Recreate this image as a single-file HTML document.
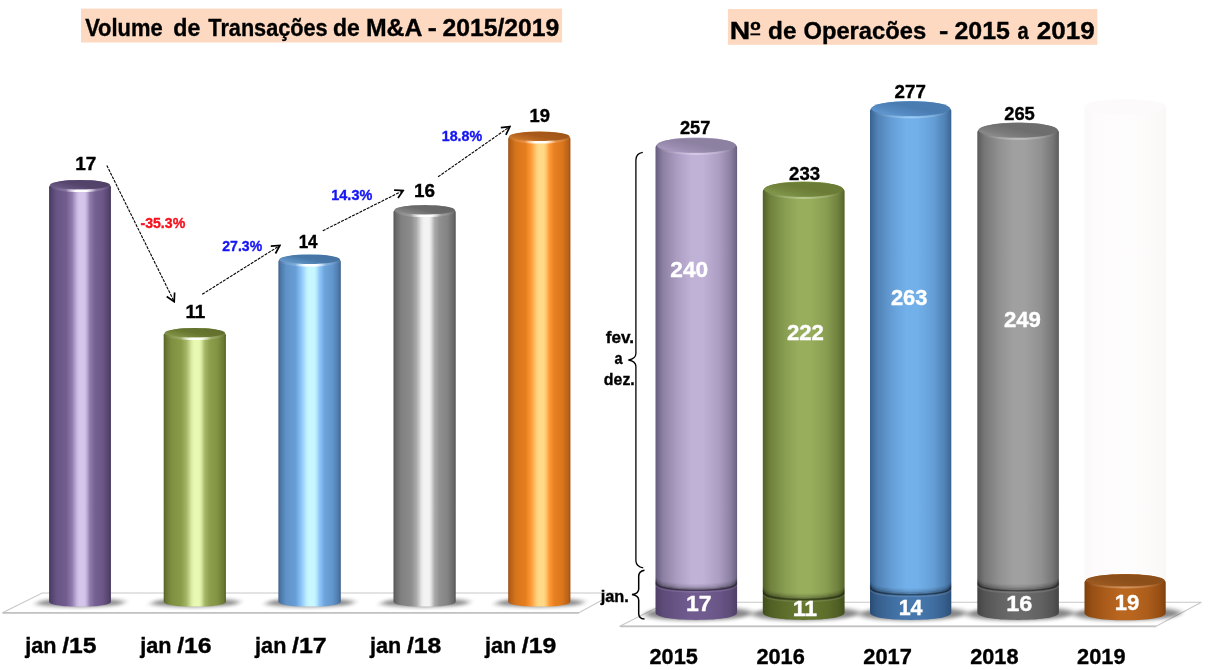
<!DOCTYPE html>
<html lang="pt"><head><meta charset="utf-8"><title>Volume de Transações de M&amp;A</title>
<style>
html,body{margin:0;padding:0;background:#fff;}
svg{display:block;}
text{font-family:"Liberation Sans",sans-serif;font-weight:bold;}
</style></head><body>
<svg width="1210" height="670" viewBox="0 0 1210 670">
<defs>
<linearGradient id="Lp" x1="0" y1="0" x2="1" y2="0"><stop offset="0" stop-color="#3d3054"/><stop offset="0.025" stop-color="#504069"/><stop offset="0.12" stop-color="#685484"/><stop offset="0.28" stop-color="#735d90"/><stop offset="0.37" stop-color="#907cac"/><stop offset="0.45" stop-color="#c7b6df"/><stop offset="0.49" stop-color="#d5c4ec"/><stop offset="0.57" stop-color="#d5c4ec"/><stop offset="0.605" stop-color="#c4b2dc"/><stop offset="0.66" stop-color="#907cac"/><stop offset="0.74" stop-color="#766193"/><stop offset="0.87" stop-color="#6b5687"/><stop offset="0.97" stop-color="#53426c"/><stop offset="1" stop-color="#3d3054"/></linearGradient>
<linearGradient id="LTp" x1="0" y1="0.85" x2="1" y2="0.15"><stop offset="0" stop-color="#705f8d"/><stop offset="0.3" stop-color="#5f4f79"/><stop offset="0.5" stop-color="#54446c"/><stop offset="1" stop-color="#4f4066"/></linearGradient>
<linearGradient id="Lg" x1="0" y1="0" x2="1" y2="0"><stop offset="0" stop-color="#4f5c22"/><stop offset="0.025" stop-color="#64722f"/><stop offset="0.12" stop-color="#7e8f40"/><stop offset="0.28" stop-color="#8a9c48"/><stop offset="0.37" stop-color="#a6b868"/><stop offset="0.45" stop-color="#dbeca5"/><stop offset="0.49" stop-color="#e8f9b4"/><stop offset="0.57" stop-color="#e8f9b4"/><stop offset="0.605" stop-color="#d8e9a1"/><stop offset="0.66" stop-color="#a6b868"/><stop offset="0.74" stop-color="#8d9f4c"/><stop offset="0.87" stop-color="#819242"/><stop offset="0.97" stop-color="#677631"/><stop offset="1" stop-color="#4f5c22"/></linearGradient>
<linearGradient id="LTg" x1="0" y1="0.85" x2="1" y2="0.15"><stop offset="0" stop-color="#8a9b4e"/><stop offset="0.3" stop-color="#74843b"/><stop offset="0.5" stop-color="#66752f"/><stop offset="1" stop-color="#606e2c"/></linearGradient>
<linearGradient id="Lb" x1="0" y1="0" x2="1" y2="0"><stop offset="0" stop-color="#3a5c88"/><stop offset="0.025" stop-color="#4a73a4"/><stop offset="0.12" stop-color="#5f92c7"/><stop offset="0.28" stop-color="#689fd7"/><stop offset="0.37" stop-color="#8ec6fb"/><stop offset="0.45" stop-color="#bceefe"/><stop offset="0.49" stop-color="#c8f8ff"/><stop offset="0.57" stop-color="#c8f8ff"/><stop offset="0.605" stop-color="#baecfe"/><stop offset="0.66" stop-color="#8ec6fb"/><stop offset="0.74" stop-color="#6da4db"/><stop offset="0.87" stop-color="#6195cb"/><stop offset="0.97" stop-color="#4c77a8"/><stop offset="1" stop-color="#3a5c88"/></linearGradient>
<linearGradient id="LTb" x1="0" y1="0.85" x2="1" y2="0.15"><stop offset="0" stop-color="#6ea2d4"/><stop offset="0.3" stop-color="#5789bb"/><stop offset="0.5" stop-color="#4878aa"/><stop offset="1" stop-color="#4471a0"/></linearGradient>
<linearGradient id="Lk" x1="0" y1="0" x2="1" y2="0"><stop offset="0" stop-color="#4e4e4e"/><stop offset="0.025" stop-color="#646464"/><stop offset="0.12" stop-color="#808080"/><stop offset="0.28" stop-color="#8c8c8c"/><stop offset="0.37" stop-color="#ababab"/><stop offset="0.45" stop-color="#e5e5e5"/><stop offset="0.49" stop-color="#f3f3f3"/><stop offset="0.57" stop-color="#f3f3f3"/><stop offset="0.605" stop-color="#e1e1e1"/><stop offset="0.66" stop-color="#ababab"/><stop offset="0.74" stop-color="#909090"/><stop offset="0.87" stop-color="#838383"/><stop offset="0.97" stop-color="#676767"/><stop offset="1" stop-color="#4e4e4e"/></linearGradient>
<linearGradient id="LTk" x1="0" y1="0.85" x2="1" y2="0.15"><stop offset="0" stop-color="#929292"/><stop offset="0.3" stop-color="#7a7a7a"/><stop offset="0.5" stop-color="#6a6a6a"/><stop offset="1" stop-color="#646464"/></linearGradient>
<linearGradient id="Lo" x1="0" y1="0" x2="1" y2="0"><stop offset="0" stop-color="#984c10"/><stop offset="0.025" stop-color="#b35e15"/><stop offset="0.12" stop-color="#d6741b"/><stop offset="0.28" stop-color="#e67e1e"/><stop offset="0.37" stop-color="#ff9a38"/><stop offset="0.45" stop-color="#ffcc76"/><stop offset="0.49" stop-color="#ffd986"/><stop offset="0.57" stop-color="#ffd986"/><stop offset="0.605" stop-color="#ffc972"/><stop offset="0.66" stop-color="#ff9a38"/><stop offset="0.74" stop-color="#e98121"/><stop offset="0.87" stop-color="#da761c"/><stop offset="0.97" stop-color="#b76016"/><stop offset="1" stop-color="#984c10"/></linearGradient>
<linearGradient id="LTo" x1="0" y1="0.85" x2="1" y2="0.15"><stop offset="0" stop-color="#d57e2a"/><stop offset="0.3" stop-color="#ba6821"/><stop offset="0.5" stop-color="#a85a1a"/><stop offset="1" stop-color="#9e5518"/></linearGradient>
<linearGradient id="Rp" x1="0" y1="0" x2="1" y2="0"><stop offset="0" stop-color="#665c7c"/><stop offset="0.025" stop-color="#716687"/><stop offset="0.09" stop-color="#8c80a2"/><stop offset="0.27" stop-color="#ac9ec3"/><stop offset="0.44" stop-color="#c0b1d7"/><stop offset="0.58" stop-color="#c0b1d7"/><stop offset="0.78" stop-color="#ac9ec3"/><stop offset="0.92" stop-color="#8c80a2"/><stop offset="0.98" stop-color="#74698a"/><stop offset="1" stop-color="#665c7c"/></linearGradient>
<linearGradient id="RJp" x1="0" y1="0" x2="1" y2="0"><stop offset="0" stop-color="#4f3e66"/><stop offset="0.025" stop-color="#53426b"/><stop offset="0.09" stop-color="#5d4b78"/><stop offset="0.27" stop-color="#6a5587"/><stop offset="0.44" stop-color="#715c90"/><stop offset="0.58" stop-color="#715c90"/><stop offset="0.78" stop-color="#6a5587"/><stop offset="0.92" stop-color="#5d4b78"/><stop offset="0.98" stop-color="#54426c"/><stop offset="1" stop-color="#4f3e66"/></linearGradient>
<linearGradient id="RTp" x1="0" y1="0.9" x2="1" y2="0.1"><stop offset="0" stop-color="#b0a1c7"/><stop offset="0.3" stop-color="#998caf"/><stop offset="0.55" stop-color="#8d81a2"/><stop offset="1" stop-color="#8d81a2"/></linearGradient>
<linearGradient id="Rg" x1="0" y1="0" x2="1" y2="0"><stop offset="0" stop-color="#526026"/><stop offset="0.025" stop-color="#5a692d"/><stop offset="0.09" stop-color="#6f813d"/><stop offset="0.27" stop-color="#899d51"/><stop offset="0.44" stop-color="#98ae5d"/><stop offset="0.58" stop-color="#98ae5d"/><stop offset="0.78" stop-color="#899d51"/><stop offset="0.92" stop-color="#6f813d"/><stop offset="0.98" stop-color="#5c6c2e"/><stop offset="1" stop-color="#526026"/></linearGradient>
<linearGradient id="RJg" x1="0" y1="0" x2="1" y2="0"><stop offset="0" stop-color="#414d1c"/><stop offset="0.025" stop-color="#45521e"/><stop offset="0.09" stop-color="#505f24"/><stop offset="0.27" stop-color="#5d6e2b"/><stop offset="0.44" stop-color="#65772f"/><stop offset="0.58" stop-color="#65772f"/><stop offset="0.78" stop-color="#5d6e2b"/><stop offset="0.92" stop-color="#505f24"/><stop offset="0.98" stop-color="#46531f"/><stop offset="1" stop-color="#414d1c"/></linearGradient>
<linearGradient id="RTg" x1="0" y1="0.9" x2="1" y2="0.1"><stop offset="0" stop-color="#8aa052"/><stop offset="0.3" stop-color="#768940"/><stop offset="0.55" stop-color="#6b7c36"/><stop offset="1" stop-color="#6b7c36"/></linearGradient>
<linearGradient id="Rb" x1="0" y1="0" x2="1" y2="0"><stop offset="0" stop-color="#38608f"/><stop offset="0.025" stop-color="#3f6a9a"/><stop offset="0.09" stop-color="#5082b5"/><stop offset="0.27" stop-color="#659ed6"/><stop offset="0.44" stop-color="#72b0ea"/><stop offset="0.58" stop-color="#72b0ea"/><stop offset="0.78" stop-color="#659ed6"/><stop offset="0.92" stop-color="#5082b5"/><stop offset="0.98" stop-color="#416c9d"/><stop offset="1" stop-color="#38608f"/></linearGradient>
<linearGradient id="RJb" x1="0" y1="0" x2="1" y2="0"><stop offset="0" stop-color="#2a4c74"/><stop offset="0.025" stop-color="#2d517b"/><stop offset="0.09" stop-color="#365e8c"/><stop offset="0.27" stop-color="#406ea1"/><stop offset="0.44" stop-color="#4678ae"/><stop offset="0.58" stop-color="#4678ae"/><stop offset="0.78" stop-color="#406ea1"/><stop offset="0.92" stop-color="#365e8c"/><stop offset="0.98" stop-color="#2e537d"/><stop offset="1" stop-color="#2a4c74"/></linearGradient>
<linearGradient id="RTb" x1="0" y1="0.9" x2="1" y2="0.1"><stop offset="0" stop-color="#66a0da"/><stop offset="0.3" stop-color="#5489c0"/><stop offset="0.55" stop-color="#4a7cb2"/><stop offset="1" stop-color="#4a7cb2"/></linearGradient>
<linearGradient id="Rk" x1="0" y1="0" x2="1" y2="0"><stop offset="0" stop-color="#5a5a5a"/><stop offset="0.025" stop-color="#626262"/><stop offset="0.09" stop-color="#777777"/><stop offset="0.27" stop-color="#919191"/><stop offset="0.44" stop-color="#a0a0a0"/><stop offset="0.58" stop-color="#a0a0a0"/><stop offset="0.78" stop-color="#919191"/><stop offset="0.92" stop-color="#777777"/><stop offset="0.98" stop-color="#646464"/><stop offset="1" stop-color="#5a5a5a"/></linearGradient>
<linearGradient id="RJk" x1="0" y1="0" x2="1" y2="0"><stop offset="0" stop-color="#434343"/><stop offset="0.025" stop-color="#484848"/><stop offset="0.09" stop-color="#545454"/><stop offset="0.27" stop-color="#626262"/><stop offset="0.44" stop-color="#6b6b6b"/><stop offset="0.58" stop-color="#6b6b6b"/><stop offset="0.78" stop-color="#626262"/><stop offset="0.92" stop-color="#545454"/><stop offset="0.98" stop-color="#494949"/><stop offset="1" stop-color="#434343"/></linearGradient>
<linearGradient id="RTk" x1="0" y1="0.9" x2="1" y2="0.1"><stop offset="0" stop-color="#949494"/><stop offset="0.3" stop-color="#7b7b7b"/><stop offset="0.55" stop-color="#6e6e6e"/><stop offset="1" stop-color="#6e6e6e"/></linearGradient>
<linearGradient id="Ro" x1="0" y1="0" x2="1" y2="0"><stop offset="0" stop-color="#7e3f0c"/><stop offset="0.025" stop-color="#85440e"/><stop offset="0.09" stop-color="#974f14"/><stop offset="0.27" stop-color="#ac5d1b"/><stop offset="0.44" stop-color="#b9661f"/><stop offset="0.58" stop-color="#b9661f"/><stop offset="0.78" stop-color="#ac5d1b"/><stop offset="0.92" stop-color="#974f14"/><stop offset="0.98" stop-color="#87450f"/><stop offset="1" stop-color="#7e3f0c"/></linearGradient>
<linearGradient id="RJo" x1="0" y1="0" x2="1" y2="0"><stop offset="0" stop-color="#7e3f0c"/><stop offset="0.025" stop-color="#85440e"/><stop offset="0.09" stop-color="#974f14"/><stop offset="0.27" stop-color="#ac5d1b"/><stop offset="0.44" stop-color="#b9661f"/><stop offset="0.58" stop-color="#b9661f"/><stop offset="0.78" stop-color="#ac5d1b"/><stop offset="0.92" stop-color="#974f14"/><stop offset="0.98" stop-color="#87450f"/><stop offset="1" stop-color="#7e3f0c"/></linearGradient>
<linearGradient id="RTo" x1="0" y1="0.9" x2="1" y2="0.1"><stop offset="0" stop-color="#a05e24"/><stop offset="0.3" stop-color="#93541d"/><stop offset="0.55" stop-color="#8c4f19"/><stop offset="1" stop-color="#8c4f19"/></linearGradient>
<linearGradient id="ghost" x1="0" y1="0" x2="1" y2="0"><stop offset="0" stop-color="#fbf8f8"/><stop offset="0.15" stop-color="#fdfbfb"/><stop offset="0.5" stop-color="#fefdfd"/><stop offset="0.85" stop-color="#fcf9f9"/><stop offset="1" stop-color="#faf7f7"/></linearGradient>
<linearGradient id="rimhi" x1="0" y1="0" x2="1" y2="0"><stop offset="0" stop-color="#fff" stop-opacity="0.04"/><stop offset="0.26" stop-color="#fff" stop-opacity="0.16"/><stop offset="0.37" stop-color="#fff" stop-opacity="0.7"/><stop offset="0.44" stop-color="#fff" stop-opacity="1"/><stop offset="0.6" stop-color="#fff" stop-opacity="1"/><stop offset="0.67" stop-color="#fff" stop-opacity="0.7"/><stop offset="0.78" stop-color="#fff" stop-opacity="0.16"/><stop offset="1" stop-color="#fff" stop-opacity="0.04"/></linearGradient>
<linearGradient id="rimlo" x1="0" y1="0" x2="1" y2="0"><stop offset="0" stop-color="#fff" stop-opacity="0"/><stop offset="0.25" stop-color="#fff" stop-opacity="0.18"/><stop offset="0.5" stop-color="#fff" stop-opacity="0.32"/><stop offset="0.75" stop-color="#fff" stop-opacity="0.18"/><stop offset="1" stop-color="#fff" stop-opacity="0"/></linearGradient>
<filter id="blurS" x="-30%" y="-120%" width="160%" height="340%"><feGaussianBlur stdDeviation="3.4 2.1"/></filter>
<filter id="blur1" x="-10%" y="-300%" width="120%" height="700%"><feGaussianBlur stdDeviation="0.6"/></filter>
<marker id="ah" viewBox="0 0 12 12" refX="10.6" refY="6" markerWidth="12" markerHeight="12" orient="auto" markerUnits="userSpaceOnUse"><path d="M2.6 1.6 L10.6 6 L2.6 10.4" fill="none" stroke="#000" stroke-width="1.7" stroke-linejoin="miter"/></marker>
</defs>
<rect width="1210" height="670" fill="#fff"/>
<polygon points="42.2,593.0 615,593.0 579,612.8 2.5,612.8" fill="#fff" stroke="#c8c8c8" stroke-width="1.1"/>
<line x1="2.5" y1="612.8" x2="579" y2="612.8" stroke="#c2c2c2" stroke-width="1.7"/>
<ellipse cx="80.5" cy="602.8" rx="44.5" ry="4.2" fill="#000" opacity="0.47" filter="url(#blurS)" transform="translate(80.5 602.8) skewX(-28) translate(-80.5 -602.8)"/>
<ellipse cx="195.3" cy="602.8" rx="44.5" ry="4.2" fill="#000" opacity="0.47" filter="url(#blurS)" transform="translate(195.3 602.8) skewX(-28) translate(-195.3 -602.8)"/>
<ellipse cx="310.1" cy="602.8" rx="44.5" ry="4.2" fill="#000" opacity="0.47" filter="url(#blurS)" transform="translate(310.1 602.8) skewX(-28) translate(-310.1 -602.8)"/>
<ellipse cx="425.1" cy="602.8" rx="44.5" ry="4.2" fill="#000" opacity="0.47" filter="url(#blurS)" transform="translate(425.1 602.8) skewX(-28) translate(-425.1 -602.8)"/>
<ellipse cx="539.8" cy="602.8" rx="44.5" ry="4.2" fill="#000" opacity="0.47" filter="url(#blurS)" transform="translate(539.8 602.8) skewX(-28) translate(-539.8 -602.8)"/>
<path d="M49.1 187.29999999999998 L49.1 601.4 C49.10 604.62 60.84 606.60 80.00 606.60 C99.16 606.60 110.90 604.62 110.90 601.40 L110.9 187.29999999999998 C110.90 182.86 98.54 179.90 80.00 179.90 C61.46 179.90 49.10 182.86 49.10 187.30 Z" fill="url(#Lp)"/>
<ellipse cx="80.0" cy="184.9" rx="30.000000000000004" ry="4.9" fill="url(#LTp)"/>
<path d="M50.300000000000004 185.5 C50.30 188.41 63.37 190.70 80.00 190.70 C96.63 190.70 109.70 188.41 109.70 185.50" fill="none" stroke="url(#rimhi)" stroke-width="2.6" filter="url(#blur1)"/>
<path d="M163.7 335.29999999999995 L163.7 601.4 C163.70 604.62 175.52 606.60 194.80 606.60 C214.08 606.60 225.90 604.62 225.90 601.40 L225.9 335.29999999999995 C225.90 330.86 213.46 327.90 194.80 327.90 C176.14 327.90 163.70 330.86 163.70 335.30 Z" fill="url(#Lg)"/>
<ellipse cx="194.8" cy="332.9" rx="30.20000000000001" ry="4.9" fill="url(#LTg)"/>
<path d="M164.89999999999998 333.49999999999994 C164.90 336.41 178.06 338.70 194.80 338.70 C211.54 338.70 224.70 336.41 224.70 333.50" fill="none" stroke="url(#rimhi)" stroke-width="2.6" filter="url(#blur1)"/>
<path d="M278.4 261.8 L278.4 601.4 C278.40 604.62 290.26 606.60 309.60 606.60 C328.94 606.60 340.80 604.62 340.80 601.40 L340.8 261.8 C340.80 257.36 328.32 254.40 309.60 254.40 C290.88 254.40 278.40 257.36 278.40 261.80 Z" fill="url(#Lb)"/>
<ellipse cx="309.6" cy="259.40000000000003" rx="30.30000000000002" ry="4.9" fill="url(#LTb)"/>
<path d="M279.59999999999997 260.0 C279.60 262.91 292.80 265.20 309.60 265.20 C326.40 265.20 339.60 262.91 339.60 260.00" fill="none" stroke="url(#rimhi)" stroke-width="2.6" filter="url(#blur1)"/>
<path d="M393.5 212.39999999999998 L393.5 601.4 C393.50 604.62 405.32 606.60 424.60 606.60 C443.88 606.60 455.70 604.62 455.70 601.40 L455.7 212.39999999999998 C455.70 207.96 443.26 205.00 424.60 205.00 C405.94 205.00 393.50 207.96 393.50 212.40 Z" fill="url(#Lk)"/>
<ellipse cx="424.6" cy="210.0" rx="30.199999999999996" ry="4.9" fill="url(#LTk)"/>
<path d="M394.7 210.6 C394.70 213.51 407.86 215.80 424.60 215.80 C441.34 215.80 454.50 213.51 454.50 210.60" fill="none" stroke="url(#rimhi)" stroke-width="2.6" filter="url(#blur1)"/>
<path d="M508.2 138.89999999999998 L508.2 601.4 C508.20 604.62 520.02 606.60 539.30 606.60 C558.58 606.60 570.40 604.62 570.40 601.40 L570.4 138.89999999999998 C570.40 134.46 557.96 131.50 539.30 131.50 C520.64 131.50 508.20 134.46 508.20 138.90 Z" fill="url(#Lo)"/>
<ellipse cx="539.3" cy="136.5" rx="30.199999999999996" ry="4.9" fill="url(#LTo)"/>
<path d="M509.4 137.1 C509.40 140.01 522.56 142.30 539.30 142.30 C556.04 142.30 569.20 140.01 569.20 137.10" fill="none" stroke="url(#rimhi)" stroke-width="2.6" filter="url(#blur1)"/>
<polygon points="667.4,602.3 1201.4,602.3 1156.2,626.3 619.8,626.3" fill="#fff" stroke="#c8c8c8" stroke-width="1.1"/>
<line x1="619.8" y1="626.3" x2="1156.2" y2="626.3" stroke="#c2c2c2" stroke-width="1.7"/>
<ellipse cx="698.5" cy="613.6" rx="53.5" ry="6.8" fill="#000" opacity="0.47" filter="url(#blurS)" transform="translate(698.5 613.6) skewX(-28) translate(-698.5 -613.6)"/>
<ellipse cx="805.9" cy="613.6" rx="53.5" ry="6.8" fill="#000" opacity="0.47" filter="url(#blurS)" transform="translate(805.9 613.6) skewX(-28) translate(-805.9 -613.6)"/>
<ellipse cx="912.9" cy="613.6" rx="53.5" ry="6.8" fill="#000" opacity="0.47" filter="url(#blurS)" transform="translate(912.9 613.6) skewX(-28) translate(-912.9 -613.6)"/>
<ellipse cx="1020.3" cy="613.6" rx="53.5" ry="6.8" fill="#000" opacity="0.47" filter="url(#blurS)" transform="translate(1020.3 613.6) skewX(-28) translate(-1020.3 -613.6)"/>
<ellipse cx="1127.3" cy="613.6" rx="53.5" ry="6.8" fill="#000" opacity="0.47" filter="url(#blurS)" transform="translate(1127.3 613.6) skewX(-28) translate(-1127.3 -613.6)"/>
<path d="M1084.6 106.7 A40.7 7.6 0 0 1 1166 106.7 L1166 600 L1084.6 600 Z" fill="url(#ghost)"/>
<ellipse cx="1125.1" cy="107" rx="39.8" ry="7.4" fill="#fcfafa"/>
<path d="M655.5 584.6 L655.5 612.6 C655.50 617.19 671.00 620.00 696.30 620.00 C721.60 620.00 737.10 617.19 737.10 612.60 L737.1 584.6 C737.10 578.84 720.78 575.00 696.30 575.00 C671.82 575.00 655.50 578.84 655.50 584.60 Z" fill="url(#RJp)"/>
<path d="M656.0 584.6 C656.00 589.13 671.31 591.90 696.30 591.90 C721.29 591.90 736.60 589.13 736.60 584.60" fill="none" stroke="#fff" stroke-opacity="0.10" stroke-width="1.6" filter="url(#blur1)"/>
<path d="M655.5 147.7 L655.5 582.4 C655.50 586.93 671.00 589.70 696.30 589.70 C721.60 589.70 737.10 586.93 737.10 582.40 L737.1 147.7 C737.10 141.64 720.78 137.60 696.30 137.60 C671.82 137.60 655.50 141.64 655.50 147.70 Z" fill="url(#Rp)"/>
<path d="M655.9 583.0 C655.90 587.53 671.25 590.30 696.30 590.30 C721.35 590.30 736.70 587.53 736.70 583.00" fill="none" stroke="#000" stroke-opacity="0.3" stroke-width="1.4"/>
<path d="M655.9 582.1999999999999 C655.90 586.73 671.25 589.50 696.30 589.50 C721.35 589.50 736.70 586.73 736.70 582.20" fill="none" stroke="#000" stroke-opacity="0.34" stroke-width="1.4"/>
<path d="M655.9 581.0 C655.90 585.53 671.25 588.30 696.30 588.30 C721.35 588.30 736.70 585.53 736.70 581.00" fill="none" stroke="#000" stroke-opacity="0.22" stroke-width="1.4"/>
<path d="M655.9 579.8 C655.90 584.33 671.25 587.10 696.30 587.10 C721.35 587.10 736.70 584.33 736.70 579.80" fill="none" stroke="#000" stroke-opacity="0.14" stroke-width="1.4"/>
<path d="M655.9 578.6 C655.90 583.13 671.25 585.90 696.30 585.90 C721.35 585.90 736.70 583.13 736.70 578.60" fill="none" stroke="#000" stroke-opacity="0.08" stroke-width="1.4"/>
<path d="M655.9 577.4 C655.90 581.93 671.25 584.70 696.30 584.70 C721.35 584.70 736.70 581.93 736.70 577.40" fill="none" stroke="#000" stroke-opacity="0.04" stroke-width="1.4"/>
<ellipse cx="696.3" cy="145.3" rx="39.70000000000001" ry="7.4" fill="url(#RTp)"/>
<path d="M657.0 146.1 C657.00 150.52 674.29 154.00 696.30 154.00 C718.31 154.00 735.60 150.52 735.60 146.10" fill="none" stroke="url(#rimlo)" stroke-width="1.8" filter="url(#blur1)"/>
<path d="M762.8 594.0 L762.8 612.6 C762.80 617.19 778.34 620.00 803.70 620.00 C829.06 620.00 844.60 617.19 844.60 612.60 L844.6 594.0 C844.60 588.24 828.24 584.40 803.70 584.40 C779.16 584.40 762.80 588.24 762.80 594.00 Z" fill="url(#RJg)"/>
<path d="M763.3 594.0 C763.30 598.53 778.65 601.30 803.70 601.30 C828.75 601.30 844.10 598.53 844.10 594.00" fill="none" stroke="#fff" stroke-opacity="0.10" stroke-width="1.6" filter="url(#blur1)"/>
<path d="M762.8 191.7 L762.8 591.8 C762.80 596.33 778.34 599.10 803.70 599.10 C829.06 599.10 844.60 596.33 844.60 591.80 L844.6 191.7 C844.60 185.64 828.24 181.60 803.70 181.60 C779.16 181.60 762.80 185.64 762.80 191.70 Z" fill="url(#Rg)"/>
<path d="M763.1999999999999 592.4 C763.20 596.93 778.59 599.70 803.70 599.70 C828.81 599.70 844.20 596.93 844.20 592.40" fill="none" stroke="#000" stroke-opacity="0.3" stroke-width="1.4"/>
<path d="M763.1999999999999 591.5999999999999 C763.20 596.13 778.59 598.90 803.70 598.90 C828.81 598.90 844.20 596.13 844.20 591.60" fill="none" stroke="#000" stroke-opacity="0.34" stroke-width="1.4"/>
<path d="M763.1999999999999 590.4 C763.20 594.93 778.59 597.70 803.70 597.70 C828.81 597.70 844.20 594.93 844.20 590.40" fill="none" stroke="#000" stroke-opacity="0.22" stroke-width="1.4"/>
<path d="M763.1999999999999 589.1999999999999 C763.20 593.73 778.59 596.50 803.70 596.50 C828.81 596.50 844.20 593.73 844.20 589.20" fill="none" stroke="#000" stroke-opacity="0.14" stroke-width="1.4"/>
<path d="M763.1999999999999 588.0 C763.20 592.53 778.59 595.30 803.70 595.30 C828.81 595.30 844.20 592.53 844.20 588.00" fill="none" stroke="#000" stroke-opacity="0.08" stroke-width="1.4"/>
<path d="M763.1999999999999 586.8 C763.20 591.33 778.59 594.10 803.70 594.10 C828.81 594.10 844.20 591.33 844.20 586.80" fill="none" stroke="#000" stroke-opacity="0.04" stroke-width="1.4"/>
<ellipse cx="803.7" cy="189.3" rx="39.80000000000003" ry="7.4" fill="url(#RTg)"/>
<path d="M764.3 190.1 C764.30 194.52 781.64 198.00 803.70 198.00 C825.76 198.00 843.10 194.52 843.10 190.10" fill="none" stroke="url(#rimlo)" stroke-width="1.8" filter="url(#blur1)"/>
<path d="M870.0 589.2 L870.0 612.6 C870.00 617.19 885.45 620.00 910.65 620.00 C935.85 620.00 951.30 617.19 951.30 612.60 L951.3 589.2 C951.30 583.44 935.04 579.60 910.65 579.60 C886.26 579.60 870.00 583.44 870.00 589.20 Z" fill="url(#RJb)"/>
<path d="M870.5 589.2 C870.50 593.73 885.76 596.50 910.65 596.50 C935.54 596.50 950.80 593.73 950.80 589.20" fill="none" stroke="#fff" stroke-opacity="0.10" stroke-width="1.6" filter="url(#blur1)"/>
<path d="M870.0 111.00000000000001 L870.0 587.0 C870.00 591.53 885.45 594.30 910.65 594.30 C935.85 594.30 951.30 591.53 951.30 587.00 L951.3 111.00000000000001 C951.30 104.94 935.04 100.90 910.65 100.90 C886.26 100.90 870.00 104.94 870.00 111.00 Z" fill="url(#Rb)"/>
<path d="M870.4 587.6 C870.40 592.13 885.69 594.90 910.65 594.90 C935.61 594.90 950.90 592.13 950.90 587.60" fill="none" stroke="#000" stroke-opacity="0.3" stroke-width="1.4"/>
<path d="M870.4 586.8 C870.40 591.33 885.69 594.10 910.65 594.10 C935.61 594.10 950.90 591.33 950.90 586.80" fill="none" stroke="#000" stroke-opacity="0.34" stroke-width="1.4"/>
<path d="M870.4 585.6 C870.40 590.13 885.69 592.90 910.65 592.90 C935.61 592.90 950.90 590.13 950.90 585.60" fill="none" stroke="#000" stroke-opacity="0.22" stroke-width="1.4"/>
<path d="M870.4 584.4 C870.40 588.93 885.69 591.70 910.65 591.70 C935.61 591.70 950.90 588.93 950.90 584.40" fill="none" stroke="#000" stroke-opacity="0.14" stroke-width="1.4"/>
<path d="M870.4 583.2 C870.40 587.73 885.69 590.50 910.65 590.50 C935.61 590.50 950.90 587.73 950.90 583.20" fill="none" stroke="#000" stroke-opacity="0.08" stroke-width="1.4"/>
<path d="M870.4 582.0 C870.40 586.53 885.69 589.30 910.65 589.30 C935.61 589.30 950.90 586.53 950.90 582.00" fill="none" stroke="#000" stroke-opacity="0.04" stroke-width="1.4"/>
<ellipse cx="910.65" cy="108.60000000000001" rx="39.549999999999976" ry="7.4" fill="url(#RTb)"/>
<path d="M871.5 109.4 C871.50 113.82 888.73 117.30 910.65 117.30 C932.57 117.30 949.80 113.82 949.80 109.40" fill="none" stroke="url(#rimlo)" stroke-width="1.8" filter="url(#blur1)"/>
<path d="M977.3 585.2 L977.3 612.6 C977.30 617.19 992.80 620.00 1018.10 620.00 C1043.40 620.00 1058.90 617.19 1058.90 612.60 L1058.9 585.2 C1058.90 579.44 1042.58 575.60 1018.10 575.60 C993.62 575.60 977.30 579.44 977.30 585.20 Z" fill="url(#RJk)"/>
<path d="M977.8 585.2 C977.80 589.73 993.11 592.50 1018.10 592.50 C1043.09 592.50 1058.40 589.73 1058.40 585.20" fill="none" stroke="#fff" stroke-opacity="0.10" stroke-width="1.6" filter="url(#blur1)"/>
<path d="M977.3 132.6 L977.3 583.0 C977.30 587.53 992.80 590.30 1018.10 590.30 C1043.40 590.30 1058.90 587.53 1058.90 583.00 L1058.9 132.6 C1058.90 126.54 1042.58 122.50 1018.10 122.50 C993.62 122.50 977.30 126.54 977.30 132.60 Z" fill="url(#Rk)"/>
<path d="M977.6999999999999 583.6 C977.70 588.13 993.05 590.90 1018.10 590.90 C1043.15 590.90 1058.50 588.13 1058.50 583.60" fill="none" stroke="#000" stroke-opacity="0.3" stroke-width="1.4"/>
<path d="M977.6999999999999 582.8 C977.70 587.33 993.05 590.10 1018.10 590.10 C1043.15 590.10 1058.50 587.33 1058.50 582.80" fill="none" stroke="#000" stroke-opacity="0.34" stroke-width="1.4"/>
<path d="M977.6999999999999 581.6 C977.70 586.13 993.05 588.90 1018.10 588.90 C1043.15 588.90 1058.50 586.13 1058.50 581.60" fill="none" stroke="#000" stroke-opacity="0.22" stroke-width="1.4"/>
<path d="M977.6999999999999 580.4 C977.70 584.93 993.05 587.70 1018.10 587.70 C1043.15 587.70 1058.50 584.93 1058.50 580.40" fill="none" stroke="#000" stroke-opacity="0.14" stroke-width="1.4"/>
<path d="M977.6999999999999 579.2 C977.70 583.73 993.05 586.50 1018.10 586.50 C1043.15 586.50 1058.50 583.73 1058.50 579.20" fill="none" stroke="#000" stroke-opacity="0.08" stroke-width="1.4"/>
<path d="M977.6999999999999 578.0 C977.70 582.53 993.05 585.30 1018.10 585.30 C1043.15 585.30 1058.50 582.53 1058.50 578.00" fill="none" stroke="#000" stroke-opacity="0.04" stroke-width="1.4"/>
<ellipse cx="1018.1" cy="130.20000000000002" rx="39.70000000000007" ry="7.4" fill="url(#RTk)"/>
<path d="M978.8 131.0 C978.80 135.42 996.09 138.90 1018.10 138.90 C1040.11 138.90 1057.40 135.42 1057.40 131.00" fill="none" stroke="url(#rimlo)" stroke-width="1.8" filter="url(#blur1)"/>
<path d="M1084.5 582.6 L1084.5 612.9 C1084.50 617.43 1099.93 620.20 1125.10 620.20 C1150.27 620.20 1165.70 617.43 1165.70 612.90 L1165.7 582.6 C1165.70 577.38 1149.46 573.90 1125.10 573.90 C1100.74 573.90 1084.50 577.38 1084.50 582.60 Z" fill="url(#Ro)"/>
<ellipse cx="1125.1" cy="580.1999999999999" rx="39.50000000000002" ry="6.0" fill="url(#RTo)"/>
<path d="M1086.0 581.0 C1086.00 584.64 1103.20 587.50 1125.10 587.50 C1147.00 587.50 1164.20 584.64 1164.20 581.00" fill="none" stroke="url(#rimlo)" stroke-width="1.8" filter="url(#blur1)"/>
<line x1="106.8" y1="165.4" x2="174.2" y2="301.7" stroke="#000" stroke-dasharray="3 1.1" stroke-width="1.1" marker-end="url(#ah)"/>
<line x1="202.2" y1="294.3" x2="279.9" y2="245.5" stroke="#000" stroke-dasharray="3 1.1" stroke-width="1.1" marker-end="url(#ah)"/>
<line x1="322.8" y1="230.8" x2="403.2" y2="190.5" stroke="#000" stroke-dasharray="3 1.1" stroke-width="1.1" marker-end="url(#ah)"/>
<line x1="438.1" y1="176.8" x2="509.9" y2="126.6" stroke="#000" stroke-dasharray="3 1.1" stroke-width="1.1" marker-end="url(#ah)"/>
<path d="M642.8 152.3 Q636 153.3 635.9 160 L635.9 353.5 Q635.9 358.6 628.4 360 Q635.9 361.4 635.9 366.5 L635.9 561 Q636.2 566.6 643.2 567.8" fill="none" stroke="#000" stroke-width="1.3"/>
<path d="M644.5 570.3 Q638.7 571.2 638.7 576.5 L638.7 589 Q638.7 593.6 632 594.6 Q638.7 595.6 638.7 600.2 L638.7 613.4 Q638.7 618.4 644.5 619.1" fill="none" stroke="#000" stroke-width="1.5"/>
<rect x="81" y="8.6" width="481.1" height="33.9" fill="#fcd9c0"/>
<text x="85.14" y="36.2" font-size="23.7" fill="#000" stroke="#000" stroke-width="0.35" textLength="77.58" lengthAdjust="spacingAndGlyphs">Volume</text>
<text x="173.37" y="36.2" font-size="23.7" fill="#000" stroke="#000" stroke-width="0.35" textLength="27.03" lengthAdjust="spacingAndGlyphs">de</text>
<text x="208.33" y="36.2" font-size="23.7" fill="#000" stroke="#000" stroke-width="0.35" textLength="119.36" lengthAdjust="spacingAndGlyphs">Transações</text>
<text x="332.98" y="36.2" font-size="23.7" fill="#000" stroke="#000" stroke-width="0.35" textLength="26.81" lengthAdjust="spacingAndGlyphs">de</text>
<text x="365.92" y="36.2" font-size="23.7" fill="#000" stroke="#000" stroke-width="0.35" textLength="56.56" lengthAdjust="spacingAndGlyphs">M&amp;A</text>
<text x="427.81" y="36.2" font-size="23.7" fill="#000" stroke="#000" stroke-width="0.35" textLength="9.10" lengthAdjust="spacingAndGlyphs">-</text>
<text x="442.43" y="36.2" font-size="23.7" fill="#000" stroke="#000" stroke-width="0.35" textLength="116.89" lengthAdjust="spacingAndGlyphs">2015/2019</text>
<rect x="727.9" y="9" width="369.4" height="35.8" fill="#fcd9c0"/>
<text x="729.89" y="38.5" font-size="24.4" fill="#000" stroke="#000" stroke-width="0.35" textLength="30.81" lengthAdjust="spacingAndGlyphs">Nº</text>
<text x="768.03" y="38.5" font-size="24.4" fill="#000" stroke="#000" stroke-width="0.35" textLength="28.41" lengthAdjust="spacingAndGlyphs">de</text>
<text x="803.45" y="38.5" font-size="24.4" fill="#000" stroke="#000" stroke-width="0.35" textLength="122.75" lengthAdjust="spacingAndGlyphs">Operacões</text>
<text x="939.08" y="38.5" font-size="24.4" fill="#000" stroke="#000" stroke-width="0.35" textLength="9.36" lengthAdjust="spacingAndGlyphs">-</text>
<text x="954.43" y="38.5" font-size="24.4" fill="#000" stroke="#000" stroke-width="0.35" textLength="55.51" lengthAdjust="spacingAndGlyphs">2015</text>
<text x="1017.40" y="38.5" font-size="24.4" fill="#000" stroke="#000" stroke-width="0.35" textLength="11.18" lengthAdjust="spacingAndGlyphs">a</text>
<text x="1036.69" y="38.5" font-size="24.4" fill="#000" stroke="#000" stroke-width="0.35" textLength="57.98" lengthAdjust="spacingAndGlyphs">2019</text>
<rect x="750.4" y="33.4" width="9.8" height="1.9" fill="#000"/>
<text x="75.31" y="169.6" font-size="17.5" fill="#000" stroke="#000" stroke-width="0.35" textLength="21.14" lengthAdjust="spacingAndGlyphs">17</text>
<text x="185.42" y="317.5" font-size="17.5" fill="#000" stroke="#000" stroke-width="0.35" textLength="19.94" lengthAdjust="spacingAndGlyphs">11</text>
<text x="298.63" y="247.8" font-size="17.5" fill="#000" stroke="#000" stroke-width="0.35" textLength="18.99" lengthAdjust="spacingAndGlyphs">14</text>
<text x="414.12" y="196.9" font-size="17.5" fill="#000" stroke="#000" stroke-width="0.35" textLength="20.98" lengthAdjust="spacingAndGlyphs">16</text>
<text x="529.45" y="122.0" font-size="17.5" fill="#000" stroke="#000" stroke-width="0.35" textLength="20.43" lengthAdjust="spacingAndGlyphs">19</text>
<text x="140.43" y="227.7" font-size="14.6" fill="#f5121f" stroke="#f5121f" stroke-width="0.35" textLength="44.83" lengthAdjust="spacingAndGlyphs">-35.3%</text>
<text x="222.31" y="250.8" font-size="14.6" fill="#1616f4" stroke="#1616f4" stroke-width="0.35" textLength="39.85" lengthAdjust="spacingAndGlyphs">27.3%</text>
<text x="331.30" y="199.9" font-size="14.6" fill="#1616f4" stroke="#1616f4" stroke-width="0.35" textLength="40.97" lengthAdjust="spacingAndGlyphs">14.3%</text>
<text x="441.71" y="141.1" font-size="14.6" fill="#1616f4" stroke="#1616f4" stroke-width="0.35" textLength="40.56" lengthAdjust="spacingAndGlyphs">18.8%</text>
<text x="25.32" y="652.6" font-size="21.5" fill="#000" stroke="#000" stroke-width="0.35" textLength="31.27" lengthAdjust="spacingAndGlyphs">jan</text>
<text x="62.25" y="652.6" font-size="21.5" fill="#000" stroke="#000" stroke-width="0.35" textLength="34.33" lengthAdjust="spacingAndGlyphs">/15</text>
<text x="140.22" y="652.6" font-size="21.5" fill="#000" stroke="#000" stroke-width="0.35" textLength="31.27" lengthAdjust="spacingAndGlyphs">jan</text>
<text x="177.15" y="652.6" font-size="21.5" fill="#000" stroke="#000" stroke-width="0.35" textLength="34.52" lengthAdjust="spacingAndGlyphs">/16</text>
<text x="255.12" y="652.6" font-size="21.5" fill="#000" stroke="#000" stroke-width="0.35" textLength="31.27" lengthAdjust="spacingAndGlyphs">jan</text>
<text x="292.05" y="652.6" font-size="21.5" fill="#000" stroke="#000" stroke-width="0.35" textLength="34.72" lengthAdjust="spacingAndGlyphs">/17</text>
<text x="370.02" y="652.6" font-size="21.5" fill="#000" stroke="#000" stroke-width="0.35" textLength="31.27" lengthAdjust="spacingAndGlyphs">jan</text>
<text x="406.95" y="652.6" font-size="21.5" fill="#000" stroke="#000" stroke-width="0.35" textLength="34.39" lengthAdjust="spacingAndGlyphs">/18</text>
<text x="484.92" y="652.6" font-size="21.5" fill="#000" stroke="#000" stroke-width="0.35" textLength="31.27" lengthAdjust="spacingAndGlyphs">jan</text>
<text x="521.85" y="652.6" font-size="21.5" fill="#000" stroke="#000" stroke-width="0.35" textLength="34.52" lengthAdjust="spacingAndGlyphs">/19</text>
<text x="679.96" y="134.1" font-size="17.9" fill="#000" stroke="#000" stroke-width="0.35" textLength="30.43" lengthAdjust="spacingAndGlyphs">257</text>
<text x="789.05" y="179.9" font-size="17.9" fill="#000" stroke="#000" stroke-width="0.35" textLength="31.02" lengthAdjust="spacingAndGlyphs">233</text>
<text x="894.64" y="98.2" font-size="17.9" fill="#000" stroke="#000" stroke-width="0.35" textLength="31.27" lengthAdjust="spacingAndGlyphs">277</text>
<text x="1004.16" y="120.2" font-size="17.9" fill="#000" stroke="#000" stroke-width="0.35" textLength="30.67" lengthAdjust="spacingAndGlyphs">265</text>
<text x="670.30" y="276.9" font-size="22.1" fill="#fff" stroke="#fff" stroke-width="0.35" textLength="37.93" lengthAdjust="spacingAndGlyphs">240</text>
<text x="786.92" y="340.0" font-size="22.1" fill="#fff" stroke="#fff" stroke-width="0.35" textLength="37.09" lengthAdjust="spacingAndGlyphs">222</text>
<text x="890.93" y="305.3" font-size="22.1" fill="#fff" stroke="#fff" stroke-width="0.35" textLength="36.56" lengthAdjust="spacingAndGlyphs">263</text>
<text x="1003.92" y="326.5" font-size="22.1" fill="#fff" stroke="#fff" stroke-width="0.35" textLength="37.08" lengthAdjust="spacingAndGlyphs">249</text>
<text x="686.06" y="610.6" font-size="21.4" fill="#fff" stroke="#fff" stroke-width="0.35" textLength="25.57" lengthAdjust="spacingAndGlyphs">17</text>
<text x="792.76" y="616.4" font-size="21.4" fill="#fff" stroke="#fff" stroke-width="0.35" textLength="24.32" lengthAdjust="spacingAndGlyphs">11</text>
<text x="898.66" y="614.5" font-size="21.4" fill="#fff" stroke="#fff" stroke-width="0.35" textLength="23.90" lengthAdjust="spacingAndGlyphs">14</text>
<text x="1006.24" y="611.2" font-size="21.4" fill="#fff" stroke="#fff" stroke-width="0.35" textLength="26.04" lengthAdjust="spacingAndGlyphs">16</text>
<text x="1114.82" y="609.9" font-size="21.4" fill="#fff" stroke="#fff" stroke-width="0.35" textLength="24.61" lengthAdjust="spacingAndGlyphs">19</text>
<text x="649.54" y="663.9" font-size="21.6" fill="#000" stroke="#000" stroke-width="0.35" textLength="48.20" lengthAdjust="spacingAndGlyphs">2015</text>
<text x="756.44" y="663.9" font-size="21.6" fill="#000" stroke="#000" stroke-width="0.35" textLength="48.37" lengthAdjust="spacingAndGlyphs">2016</text>
<text x="863.34" y="663.9" font-size="21.6" fill="#000" stroke="#000" stroke-width="0.35" textLength="48.54" lengthAdjust="spacingAndGlyphs">2017</text>
<text x="970.24" y="663.9" font-size="21.6" fill="#000" stroke="#000" stroke-width="0.35" textLength="48.26" lengthAdjust="spacingAndGlyphs">2018</text>
<text x="1077.14" y="663.9" font-size="21.6" fill="#000" stroke="#000" stroke-width="0.35" textLength="48.37" lengthAdjust="spacingAndGlyphs">2019</text>
<text x="605.70" y="342.6" font-size="16.6" fill="#000" stroke="#000" stroke-width="0.35" textLength="28.28" lengthAdjust="spacingAndGlyphs">fev.</text>
<text x="614.57" y="363.5" font-size="16.6" fill="#000" stroke="#000" stroke-width="0.35" textLength="8.04" lengthAdjust="spacingAndGlyphs">a</text>
<text x="603.86" y="385.4" font-size="16.6" fill="#000" stroke="#000" stroke-width="0.35" textLength="30.91" lengthAdjust="spacingAndGlyphs">dez.</text>
<text x="600.65" y="601.5" font-size="16.6" fill="#000" stroke="#000" stroke-width="0.35" textLength="28.16" lengthAdjust="spacingAndGlyphs">jan.</text>
</svg>
</body></html>
